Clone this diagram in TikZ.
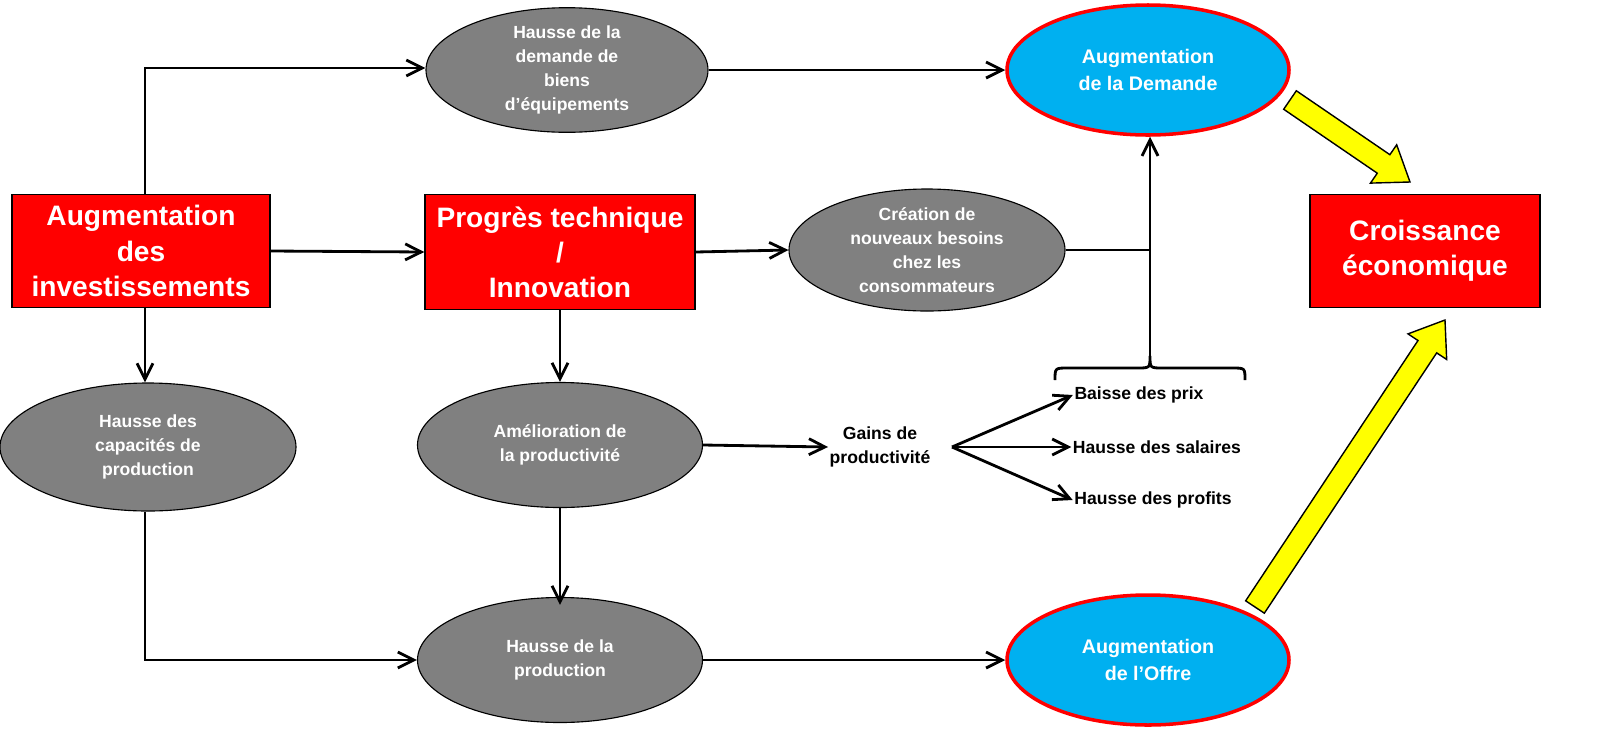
\documentclass[tikz,border=0pt]{standalone}
\usepackage{fontspec}
\setmainfont{Liberation Sans}
\usetikzlibrary{arrows.meta,calc,shapes.geometric}
\definecolor{grayell}{HTML}{808080}
\definecolor{bluee}{HTML}{00B0F0}
\definecolor{yel}{HTML}{FFFF00}
\tikzset{
 redbox/.style={fill=red,draw=black,line width=1pt,minimum width=258*0.025cm,minimum height=113*0.025cm,text=white,font=\bfseries\fontsize{20}{25}\selectfont,align=center,inner sep=2pt},
 grayell/.style={ellipse,fill=grayell,draw=black,line width=0.8pt,text=white,font=\bfseries\fontsize{12.5}{17}\selectfont,align=center,inner sep=0pt},
 blueell/.style={ellipse,fill=bluee,draw=red,line width=2.5pt,text=white,font=\bfseries\fontsize{14}{19}\selectfont,align=center,inner sep=0pt,minimum width=282*0.025cm,minimum height=130*0.025cm},
 lbl/.style={text=black,font=\bfseries\fontsize{12.5}{17}\selectfont,align=center,inner sep=1pt},
 arr/.style={line width=2pt,-{Straight Barb[length=4mm,width=4mm,line width=2pt]}},
 ln/.style={line width=2pt},
 yarrow/.style={fill=yel,draw=black,line width=1pt}
}
\begin{document}
\begin{tikzpicture}[x=0.025cm,y=-0.025cm]
\useasboundingbox (0,0) rectangle (1600,745);
\node[redbox] (b1) at (141,251) {Augmentation\\des\\investissements};
\node[redbox,minimum width=270*0.025cm,minimum height=115*0.025cm] (b2) at (560,252) {Progrès technique\\/\\Innovation};
\node[redbox,minimum width=230*0.025cm] (b3) at (1425,251) {Croissance\\économique};
\node[grayell,minimum width=282*0.025cm,minimum height=120*0.025cm] (e1) at (567,70) {Hausse de la\\demande de\\biens\\d’équipements};
\node[blueell] (e2) at (1148,70) {Augmentation\\de la Demande};
\node[grayell,minimum width=276*0.025cm,minimum height=122*0.025cm] (e3) at (927,250) {Création de\\nouveaux besoins\\chez les\\consommateurs};
\node[grayell,minimum width=296*0.025cm,minimum height=128*0.025cm] (e4) at (148,447) {Hausse des\\capacités de\\production};
\node[grayell,minimum width=285*0.025cm,minimum height=125*0.025cm] (e5) at (560,445) {Amélioration de\\la productivité};
\node[grayell,minimum width=285*0.025cm,minimum height=125*0.025cm] (e6) at (560,660) {Hausse de la\\production};
\node[blueell] (e7) at (1148,660) {Augmentation\\de l’Offre};
\node[lbl] (g) at (880,447) {Gains de\\productivité};
\node[lbl] (p1) at (1139,395) {Baisse des prix};
\node[lbl] (p2) at (1157,447) {Hausse des salaires};
\node[lbl] (p3) at (1153,500) {Hausse des profits};
% connectors
\coordinate (c1) at (145,68);
\draw[arr] (b1.north -| c1) -- (c1) -- (e1.west |- c1);
\draw[arr] (b1.east) -- (b2.west);
\draw[arr] (b2.east) -- (e3.west);
\draw[arr] (e1.east) -- (e2.west);
\draw[arr] (b1.south -| c1) -- (e4.north -| c1);
\draw[arr] (b2.south) -- (e5.north);
\draw[arr] (e5.south) -- ([yshift=-0.2cm]e6.north);
\coordinate (c2) at (145,660);
\draw[arr] (e4.south -| c2) -- (c2) -- (e6.west);
\draw[arr] (e6.east) -- (e7.west);
\draw[arr] (e5.east) -- (g.west);
\coordinate (gs) at (952,447);
\draw[arr] (gs) -- (p1.west);
\draw[arr] (gs) -- (p2.west);
\draw[arr] (gs) -- (p3.west);
\coordinate (bt) at (1150,356);
\coordinate (bj) at (1150,250);
\draw[ln] (1055,380) .. controls (1055,368) .. (1068,368) -- (1137,368) .. controls (1150,368) .. (bt) .. controls (1150,368) .. (1163,368) -- (1232,368) .. controls (1245,368) .. (1245,380);
\draw[arr] (bt) -- (e2.south -| bt);
\draw[ln] (e3.east) -- (bj);
% yellow arrows
\coordinate (ya) at (1290,100); \coordinate (yb) at (1410,182);
\coordinate (ys) at ($(yb)!0.8cm!(ya)$);
\draw[yarrow] ($(ya)!0.28cm!90:(yb)$) -- ($(ys)!0.28cm!90:(yb)$) -- ($(ys)!0.58cm!90:(yb)$) -- (yb) -- ($(ys)!0.58cm!-90:(yb)$) -- ($(ys)!0.28cm!-90:(yb)$) -- ($(ya)!0.28cm!-90:(yb)$) -- cycle;
\coordinate (za) at (1255,607); \coordinate (zb) at (1445,320);
\coordinate (zs) at ($(zb)!0.8cm!(za)$);
\draw[yarrow] ($(za)!0.28cm!90:(zb)$) -- ($(zs)!0.28cm!90:(zb)$) -- ($(zs)!0.58cm!90:(zb)$) -- (zb) -- ($(zs)!0.58cm!-90:(zb)$) -- ($(zs)!0.28cm!-90:(zb)$) -- ($(za)!0.28cm!-90:(zb)$) -- cycle;
\end{tikzpicture}
\end{document}
